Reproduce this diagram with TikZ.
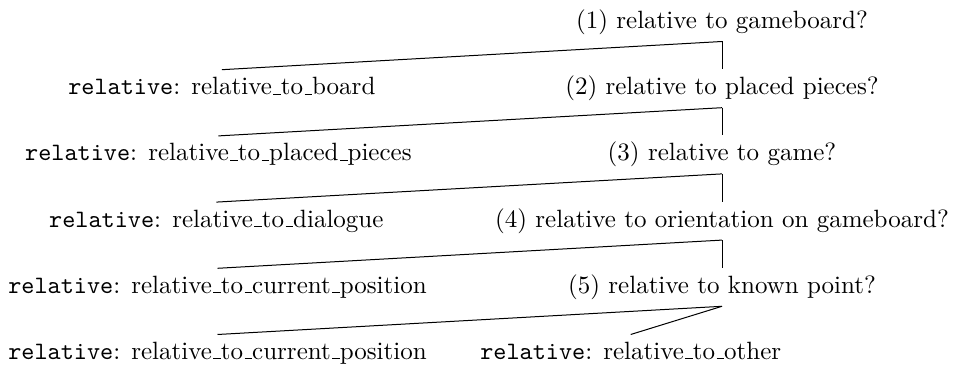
\documentclass[tikz,border=0pt]{standalone}
\newcommand\usc{\leavevmode\kern.06em\vbox{\hrule width.3em}}
\begin{document}
\begin{tikzpicture}[x=0.4pt,y=-0.4pt,
  lbl/.style={anchor=base,inner sep=2.5pt,text height=7.5pt,text depth=2.5pt},
  leaf/.style={lbl,anchor=base west,inner sep=0pt,outer sep=2.5pt},
  edge/.style={draw=black,line width=0.4pt}]
\useasboundingbox (0,0) rectangle (969,365);
\def\cx{722}
% question nodes
\node[lbl] (q1) at (\cx,28.5) {(1) relative to gameboard?};
\node[lbl] (q2) at (\cx,94.7) {(2) relative to placed pieces?};
\node[lbl] (q3) at (\cx,160.9) {(3) relative to game?};
\node[lbl] (q4) at (\cx,227.1) {(4) relative to orientation on gameboard?};
\node[lbl] (q5) at (\cx,293.3) {(5) relative to known point?};
% leaf nodes
\node[leaf] (l1) at (62,94.7) {\texttt{relative}: relative\usc to\usc board};
\node[leaf] (l2) at (19,160.9) {\texttt{relative}: relative\usc to\usc placed\usc pieces};
\node[leaf] (l3) at (43,227.1) {\texttt{relative}: relative\usc to\usc dialogue};
\node[leaf] (l4) at (2,293.3) {\texttt{relative}: relative\usc to\usc current\usc position};
\node[leaf] (l5) at (2,359.5) {\texttt{relative}: relative\usc to\usc current\usc position};
\node[leaf] (l6) at (474,359.5) {\texttt{relative}: relative\usc to\usc other};
% edges
\draw[edge] (q1.south) -- (l1.north);
\draw[edge] (q1.south) -- (q2.north);
\draw[edge] (q2.south) -- (l2.north);
\draw[edge] (q2.south) -- (q3.north);
\draw[edge] (q3.south) -- (l3.north);
\draw[edge] (q3.south) -- (q4.north);
\draw[edge] (q4.south) -- (l4.north);
\draw[edge] (q4.south) -- (q5.north);
\draw[edge] (q5.south) -- (l5.north);
\draw[edge] (q5.south) -- (l6.north);
\end{tikzpicture}
\end{document}
